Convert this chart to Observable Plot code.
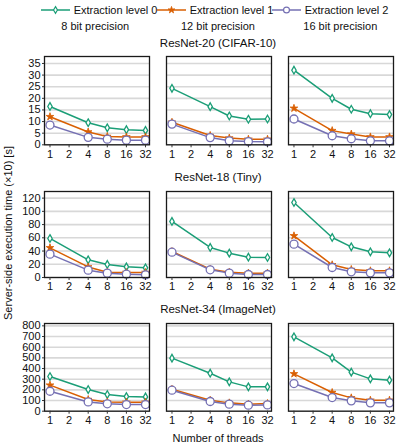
<!DOCTYPE html>
<html>
<head>
<meta charset="utf-8">
<script src="https://cdn.jsdelivr.net/npm/d3@7"></script>
<script src="https://cdn.jsdelivr.net/npm/@observablehq/plot@0.6"></script>
<style>
  html, body { margin: 0; padding: 0; background: #fff; }
  #chart { position: relative; width: 398px; height: 446px; font-family: "Liberation Sans", Arial, sans-serif; font-size: 11px; color: #111; overflow: hidden; }
  .lbl { position: absolute; white-space: nowrap; transform: translate(-50%, -50%); }
  .row { position: absolute; left: 0; }
  .leg { position: absolute; display: flex; align-items: center; white-space: nowrap; transform: translateY(-50%); }
  .leg svg { margin-right: 4px; }
</style>
</head>
<body>
<div id="chart"></div>
<script>
// ---- data ----
const threads = [1, 4, 8, 16, 32];
const xTicks = [1, 2, 4, 8, 16, 32];
const precisions = ["8 bit precision", "12 bit precision", "16 bit precision"];
const levels = ["Extraction level 0", "Extraction level 1", "Extraction level 2"];
const models = ["ResNet-20 (CIFAR-10)", "ResNet-18 (Tiny)", "ResNet-34 (ImageNet)"];
const colors = ["#1b9e77", "#d95f02", "#7570b3"];

// values per [level][thread]
const r20_8  = [[16.5, 9.5, 7.3, 6.5, 6.2], [12.1, 5.5, 3.6, 3.4, 3.4], [8.5, 3.2, 2.4, 2.0, 2.0]];
const r20_12 = [[24.3, 16.4, 12.4, 11.0, 11.1], [9.7, 4.0, 2.9, 2.4, 2.4], [8.9, 3.1, 1.7, 1.4, 1.3]];
const r20_16 = [[32.1, 20.0, 15.3, 13.4, 13.0], [15.7, 6.1, 4.6, 3.4, 3.4], [11.1, 3.9, 2.6, 1.7, 1.7]];
const r18_8  = [[59, 26.7, 19.7, 16.1, 14.6], [44.9, 16, 8, 7.6, 7.6], [35.3, 11.1, 6.6, 5, 4]];
const r18_12 = [[84.7, 45.4, 36.8, 30.7, 30.2], [39.3, 12.6, 8, 6.6, 6.6], [38.3, 11.6, 6.6, 4.5, 4.5]];
const r18_16 = [[113.4, 60.5, 46.4, 38.8, 37.3], [63, 19.2, 12.1, 10.1, 10.1], [50.4, 15.1, 8.6, 7, 7]];
const r34_8  = [[325, 203, 156, 137, 134], [244, 109, 87, 84, 84], [187, 87, 69, 62, 62]];
const r34_12 = [[497, 356, 275, 228, 228], [206, 103, 78, 66, 72], [197, 91, 66, 56, 59]];
const r34_16 = [[697, 500, 366, 303, 291], [350, 175, 125, 103, 103], [259, 128, 97, 78, 78]];

const yTicks20 = [0, 5, 10, 15, 20, 25, 30, 35];
const yTicks18 = [0, 20, 40, 60, 80, 100, 120];
const yTicks34 = [0, 100, 200, 300, 400, 500, 600, 700, 800];
const yMax = [38, 130, 822];

// ---- layout ----
const chart = document.getElementById("chart");
const W = 398, mL = 43, mR = 3;
const rowTops = [56, 190.7, 323.3];
const panelH = [88.3, 86, 87.7];
const rowTitleY = [43, 176.7, 309];
const symbols = ["diamond", "star", "circle"];
const symR = [2.3, 2.4, 4.0];
const fills = ["white", null, "white"];

function label(text, x, y, extra) {
  const d = document.createElement("div");
  d.className = "lbl";
  d.textContent = text;
  d.style.left = x + "px";
  d.style.top = y + "px";
  if (extra) Object.assign(d.style, extra);
  chart.appendChild(d);
  return d;
}

function rowPlot(series, ymax, yTicks, h) {
  const data = [];
  series.forEach((s, pi) => s.forEach((vals, li) => vals.forEach((v, ti) =>
    data.push({prec: precisions[pi], level: li, threads: threads[ti], value: v}))));
  const marks = [
    Plot.gridY(yTicks, {stroke: "#d8d8d8", strokeOpacity: 1, strokeWidth: 1.6})
  ];
  levels.forEach((lv, li) => {
    const d = data.filter(r => r.level === li);
    marks.push(Plot.line(d, {x: "threads", y: "value", fx: "prec", stroke: colors[li], strokeWidth: 1.5}));
    marks.push(Plot.dot(d, {x: "threads", y: "value", fx: "prec", symbol: () => symbols[li], r: symR[li],
      stroke: colors[li], strokeWidth: li === 1 ? 0.8 : 1.3, fill: fills[li] || colors[li]}));
  });
  marks.push(Plot.frame({stroke: "#1a1a1a", strokeWidth: 1.3}));
  marks.push(Plot.axisX({ticks: xTicks, tickFormat: d => String(d), tickSize: 3, tickPadding: 2, label: null, stroke: "#333"}));
  marks.push(Plot.axisY({ticks: yTicks, tickSize: 2, tickPadding: 2, label: null, stroke: "#333"}));
  return Plot.plot({
    width: W, height: 2 + h + 22,
    marginTop: 2, marginBottom: 22, marginLeft: mL, marginRight: mR,
    style: {fontSize: "11px", fontFamily: "Liberation Sans, Arial, sans-serif", color: "#111", background: "transparent", overflow: "visible"},
    x: {type: "log", base: 2, domain: [0.82, 37]},
    y: {domain: [0, ymax]},
    fx: {domain: precisions, paddingInner: 0.138, paddingOuter: 0, axis: null},
    symbol: {type: "identity"},
    marks
  });
}

const rows = [[r20_8, r20_12, r20_16], [r18_8, r18_12, r18_16], [r34_8, r34_12, r34_16]];
const ticksList = [yTicks20, yTicks18, yTicks34];
rows.forEach((series, i) => {
  const svg = rowPlot(series, yMax[i], ticksList[i], panelH[i]);
  const wrap = document.createElement("div");
  wrap.className = "row";
  wrap.style.top = (rowTops[i] - 2) + "px";
  wrap.appendChild(svg);
  chart.appendChild(wrap);
  label(models[i], 218, rowTitleY[i], {fontSize: "11.5px"});
});

// column titles
const colCenters = [95.2, 218, 340.3];
precisions.forEach((p, i) => label(p, colCenters[i], 26));

// legend
const legX = [40.7, 156.7, 271.7];
levels.forEach((lv, i) => {
  const item = document.createElement("div");
  item.className = "leg";
  item.style.left = legX[i] + "px";
  item.style.top = "10px";
  const s = d3.create("svg").attr("width", 29).attr("height", 12);
  s.append("line").attr("x1", 0).attr("x2", 29).attr("y1", 6).attr("y2", 6)
    .attr("stroke", colors[i]).attr("stroke-width", 1.5);
  const symType = [d3.symbolDiamond, d3.symbolStar, d3.symbolCircle][i];
  s.append("path").attr("transform", "translate(14.5,6)")
    .attr("d", d3.symbol(symType, Math.PI * symR[i] * symR[i] * (i === 2 ? 0.55 : 0.8))())
    .attr("fill", fills[i] || colors[i]).attr("stroke", colors[i]).attr("stroke-width", i === 1 ? 0.8 : 1.2);
  item.appendChild(s.node());
  const t = document.createElement("span");
  t.textContent = lv;
  item.appendChild(t);
  chart.appendChild(item);
});

// axis titles
label("Number of threads", 218, 438);
label("Server-side execution time (×10) [s]", 8, 233, {transform: "translate(-50%, -50%) rotate(-90deg)"});
</script>
</body>
</html>
